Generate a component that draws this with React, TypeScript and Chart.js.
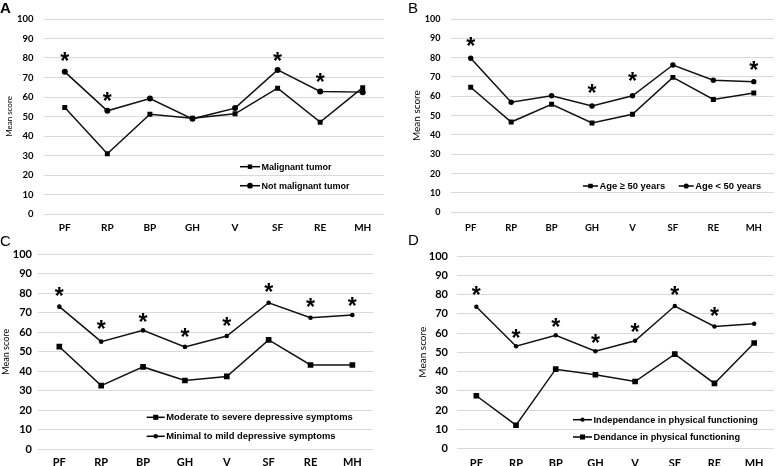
import React, { useEffect, useRef } from 'react';
import { Chart, registerables } from 'chart.js';

Chart.register(...registerables);

const FONT = 'Lato, "Open Sans", sans-serif';
const LEGEND_FONT = '"Liberation Sans", Arial, sans-serif';

// ---------- data ----------
const categories = ['PF', 'RP', 'BP', 'GH', 'V', 'SF', 'RE', 'MH'];

const malignantTumor = [54.6, 30.9, 51.2, 49.1, 51.4, 64.5, 47.1, 64.8];
const notMalignantTumor = [72.9, 52.9, 59.2, 48.8, 54.3, 73.9, 62.8, 62.5];
const asteriskA = [80.7, 60.2, null, null, null, 80.7, 70.0, null];

const ageOver50 = [64.7, 46.7, 55.9, 46.2, 50.7, 69.8, 58.4, 61.7];
const ageUnder50 = [79.7, 56.9, 60.3, 55.0, 60.3, 76.2, 68.3, 67.6];
const asteriskB = [88.3, null, null, 64.1, 70.5, null, null, 75.9];

const moderateSevere = [52.6, 32.6, 42.2, 35.2, 37.3, 56.1, 43.2, 43.2];
const minimalMild = [73.2, 55.2, 61.0, 52.5, 58.1, 75.2, 67.5, 68.9];
const asteriskC = [81.2, 63.8, 67.5, 59.8, 65.5, 82.9, 75.4, 75.7];

const independence = [73.6, 53.1, 58.8, 50.5, 56.0, 74.0, 63.4, 64.8];
const dependence = [27.4, 12.1, 41.2, 38.3, 34.8, 49.0, 33.8, 54.8];
const asteriskD = [82.0, 60.0, 65.2, 56.9, 62.9, 82.0, 71.2, null];

const yTitle = 'Mean score';

type Series = { label: string; data: number[]; style: 'rect' | 'circle' };

type PanelCfg = {
  letter: string;
  canvas: { x: number; y: number; w: number; h: number };
  area: { left: number; right: number; top: number; bottom: number };
  tickPad: number;
  tickSize: number;
  catPad: number;
  catSize: number;
  titleSize: number;
  titlePad: number;
  letterPos: { x: number; y: number };
  series: Series[];
  asterisks: (number | null)[];
  legend: { items: { x: number; y: number }[]; sample: number; size: number };
  sq: number;
  ci: number;
};

const panels: PanelCfg[] = [
  {
    letter: 'A',
    canvas: { x: 0, y: 0, w: 388, h: 233 },
    area: { left: 43.5, right: 385.5, top: 19, bottom: 214 },
    tickPad: 10, tickSize: 9.5, catPad: 8, catSize: 10, titleSize: 8, titlePad: 5,
    letterPos: { x: 0, y: 0 },
    series: [
      { label: 'Malignant tumor', data: malignantTumor, style: 'rect' },
      { label: 'Not malignant tumor', data: notMalignantTumor, style: 'circle' },
    ],
    asterisks: asteriskA,
    legend: { items: [{ x: 240, y: 166.7 }, { x: 240, y: 185.7 }], sample: 20, size: 9 },
    sq: 3.5, ci: 3,
  },
  {
    letter: 'B',
    canvas: { x: 388, y: 0, w: 390, h: 233 },
    area: { left: 450.5, right: 777.5, top: 19, bottom: 212.3 },
    tickPad: 10, tickSize: 9, catPad: 10, catSize: 9.5, titleSize: 10, titlePad: 22.5,
    letterPos: { x: 408, y: 0 },
    series: [
      { label: 'Age \u2265 50 years', data: ageOver50, style: 'rect' },
      { label: 'Age < 50 years', data: ageUnder50, style: 'circle' },
    ],
    asterisks: asteriskB,
    legend: { items: [{ x: 195, y: 186 }, { x: 290.7, y: 186 }], sample: 15, size: 9.4 },
    sq: 3.5, ci: 2.7,
  },
  {
    letter: 'C',
    canvas: { x: 0, y: 233, w: 388, h: 233 },
    area: { left: 38.4, right: 373.3, top: 254.5, bottom: 449 },
    tickPad: 6.4, tickSize: 11, catPad: 7, catSize: 11, titleSize: 9, titlePad: 0.5,
    letterPos: { x: 0, y: 233 },
    series: [
      { label: 'Moderate to severe depressive symptoms', data: moderateSevere, style: 'rect' },
      { label: 'Minimal to mild depressive symptoms', data: minimalMild, style: 'circle' },
    ],
    asterisks: asteriskC,
    legend: { items: [{ x: 146.7, y: 184.3 }, { x: 146.7, y: 203.3 }], sample: 18, size: 9.4 },
    sq: 4, ci: 2.3,
  },
  {
    letter: 'D',
    canvas: { x: 388, y: 233, w: 390, h: 233 },
    area: { left: 456.5, right: 777.5, top: 256, bottom: 448.5 },
    tickPad: 8.5, tickSize: 11, catPad: 8.5, catSize: 11, titleSize: 10, titlePad: 29,
    letterPos: { x: 408, y: 232 },
    series: [
      { label: 'Independance in physical functioning', data: independence, style: 'circle' },
      { label: 'Dendance in physical functioning', data: dependence, style: 'rect' },
    ],
    asterisks: asteriskD,
    legend: { items: [{ x: 185, y: 186.7 }, { x: 185, y: 204 }], sample: 19, size: 9.2 },
    sq: 4, ci: 2.2,
  },
];

function drawMarker(ctx: CanvasRenderingContext2D, style: string, x: number, y: number, r: number) {
  ctx.beginPath();
  if (style === 'rect') {
    const s = Math.SQRT1_2 * r;
    ctx.rect(x - s, y - s, 2 * s, 2 * s);
  } else {
    ctx.arc(x, y, r, 0, Math.PI * 2);
  }
  ctx.fill();
}

function makeAsteriskPlugin(values: (number | null)[]) {
  return {
    id: 'asterisks',
    afterDatasetsDraw(chart: any) {
      const { ctx } = chart;
      const xs = chart.scales.x;
      const ys = chart.scales.y;
      ctx.save();
      ctx.fillStyle = '#000';
      ctx.textAlign = 'center';
      ctx.textBaseline = 'alphabetic';
      ctx.font = `bold 100px "Liberation Sans", Arial, sans-serif`;
      const m0 = ctx.measureText('*');
      const h0 = m0.actualBoundingBoxAscent + m0.actualBoundingBoxDescent;
      const size = (8.8 / h0) * 100;
      ctx.font = `bold ${size}px "Liberation Sans", Arial, sans-serif`;
      const m = ctx.measureText('*');
      const off = (m.actualBoundingBoxAscent - m.actualBoundingBoxDescent) / 2;
      values.forEach((v, i) => {
        if (v == null) return;
        ctx.fillText('*', xs.getPixelForValue(i), ys.getPixelForValue(v) + off);
      });
      ctx.restore();
    },
  };
}

function makeLegendPlugin(cfg: PanelCfg) {
  return {
    id: 'panelLegend',
    afterDraw(chart: any) {
      const { ctx } = chart;
      ctx.save();
      ctx.font = `bold ${cfg.legend.size}px ${LEGEND_FONT}`;
      ctx.textBaseline = 'middle';
      ctx.textAlign = 'left';
      chart.data.datasets.forEach((ds: any, i: number) => {
        const pos = cfg.legend.items[i];
        const L = cfg.legend.sample;
        ctx.strokeStyle = '#000';
        ctx.lineWidth = 1.5;
        ctx.beginPath();
        ctx.moveTo(pos.x, pos.y);
        ctx.lineTo(pos.x + L, pos.y);
        ctx.stroke();
        ctx.fillStyle = '#000';
        const r = ds.pointStyle === 'rect' ? cfg.sq * 0.9 : cfg.ci * 0.95;
        drawMarker(ctx, ds.pointStyle, pos.x + L / 2, pos.y, r);
        ctx.fillStyle = '#000';
        ctx.fillText(ds.label, pos.x + L + 1.5, pos.y + 0.5);
      });
      ctx.restore();
    },
  };
}

function Panel({ cfg }: { cfg: PanelCfg }) {
  const ref = useRef<HTMLCanvasElement>(null);
  useEffect(() => {
    if (!ref.current) return;
    const c = cfg.canvas;
    const a = cfg.area;
    const yw = a.left - c.x;
    const xh = c.y + c.h - a.bottom;
    const chart = new Chart(ref.current, {
      type: 'line',
      data: {
        labels: categories,
        datasets: cfg.series.map((s) => ({
          label: s.label,
          data: s.data,
          borderColor: '#111',
          backgroundColor: '#000',
          pointBackgroundColor: '#000',
          pointBorderColor: '#000',
          pointBorderWidth: 0,
          borderWidth: 1.5,
          pointStyle: s.style,
          pointRadius: s.style === 'rect' ? cfg.sq : cfg.ci,
          tension: 0,
          fill: false,
        })),
      },
      options: {
        responsive: false,
        animation: false,
        events: [],
        layout: {
          padding: { top: a.top - c.y, right: c.x + c.w - a.right, left: 0, bottom: 0 },
        },
        plugins: {
          legend: { display: false },
          tooltip: { enabled: false },
          title: { display: false },
        },
        scales: {
          x: {
            type: 'category',
            offset: true,
            grid: { display: false, drawTicks: false },
            border: { display: false },
            ticks: {
              padding: cfg.catPad,
              color: '#000',
              font: { family: FONT, size: cfg.catSize, weight: 'bold' },
              autoSkip: false,
              maxRotation: 0,
            },
            afterFit: (s: any) => {
              s.height = xh;
            },
          },
          y: {
            min: 0,
            max: 100,
            ticks: {
              stepSize: 10,
              padding: cfg.tickPad,
              color: '#000',
              font: { family: FONT, size: cfg.tickSize, weight: 'bold' },
            },
            grid: { color: '#d9d9d9', lineWidth: 1, drawTicks: false },
            border: { display: false },
            title: {
              display: true,
              text: yTitle,
              color: '#000',
              font: { family: FONT, size: cfg.titleSize },
              padding: { top: cfg.titlePad, bottom: 0 },
            },
            afterFit: (s: any) => {
              s.width = yw;
            },
          },
        },
      },
      plugins: [makeAsteriskPlugin(cfg.asterisks), makeLegendPlugin(cfg)],
    } as any);
    return () => chart.destroy();
  }, [cfg]);
  return (
    <canvas
      ref={ref}
      width={cfg.canvas.w}
      height={cfg.canvas.h}
      style={{
        position: 'absolute',
        left: cfg.canvas.x,
        top: cfg.canvas.y,
        width: cfg.canvas.w,
        height: cfg.canvas.h,
      }}
    />
  );
}

export default function App() {
  return (
    <div
      style={{
        position: 'absolute',
        left: 0,
        top: 0,
        width: 778,
        height: 466,
        background: '#fff',
        overflow: 'hidden',
      }}
    >
      {panels.map((p) => (
        <Panel key={p.letter} cfg={p} />
      ))}
      {panels.map((p) => (
        <div
          key={'l' + p.letter}
          style={{
            position: 'absolute',
            left: p.letterPos.x,
            top: p.letterPos.y,
            font: '15px "Liberation Sans", Arial, sans-serif',
            lineHeight: '15px',
            color: '#000',
            fontWeight: p.letter === 'A' ? 'bold' : 'normal',
          }}
        >
          {p.letter}
        </div>
      ))}
    </div>
  );
}
